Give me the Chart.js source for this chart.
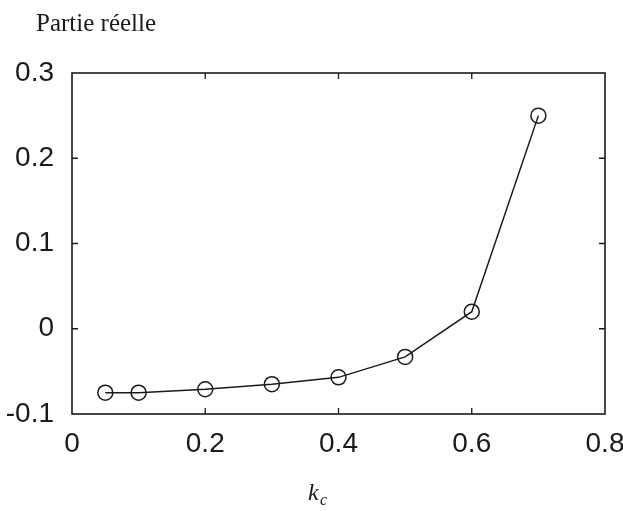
<!DOCTYPE html>
<html>
<head>
<meta charset="utf-8">
<script src="https://cdn.jsdelivr.net/npm/chart.js@4.4.0/dist/chart.umd.min.js"></script>
<style>
  html, body { margin: 0; padding: 0; background: #fff; }
  #wrap { width: 623px; height: 511px; position: relative; }
</style>
</head>
<body>
<div id="wrap"><canvas id="chart" width="623" height="511"></canvas></div>
<script>
const kValues = [0.05, 0.1, 0.2, 0.3, 0.4, 0.5, 0.6, 0.7]
const realPart = [-0.075, -0.075, -0.071, -0.065, -0.057, -0.033, 0.02, 0.25]
const xTicks = [0, 0.2, 0.4, 0.6, 0.8]
const yTicks = [-0.1, 0, 0.1, 0.2, 0.3]

const ink = '#1a1a1a'

// box round the plot with inward ticks on all four sides, like matlab
const boxPlugin = {
    id: 'box',
    afterDraw(chart) {
        const ctx = chart.ctx
        const a = chart.chartArea
        const xs = chart.scales.x
        const ys = chart.scales.y
        ctx.save()
        ctx.strokeStyle = ink
        ctx.lineWidth = 1.6
        ctx.strokeRect(a.left, a.top, a.right - a.left, a.bottom - a.top)
        ctx.lineWidth = 1.3
        ctx.beginPath()
        xTicks.slice(1, -1).forEach(v => {
            const px = xs.getPixelForValue(v)
            ctx.moveTo(px, a.bottom); ctx.lineTo(px, a.bottom - 6)
            ctx.moveTo(px, a.top); ctx.lineTo(px, a.top + 6)
        })
        yTicks.slice(1, -1).forEach(v => {
            const py = ys.getPixelForValue(v)
            ctx.moveTo(a.left, py); ctx.lineTo(a.left + 6, py)
            ctx.moveTo(a.right, py); ctx.lineTo(a.right - 6, py)
        })
        ctx.stroke()

        // title top left and k_c under the axis
        ctx.fillStyle = ink
        ctx.textBaseline = 'alphabetic'
        ctx.font = '25px "Liberation Serif", serif'
        ctx.fillText('Partie réelle', 36, 31)
        ctx.font = 'italic 24px "Liberation Serif", serif'
        ctx.fillText('k', 308, 500)
        ctx.font = 'italic 16px "Liberation Serif", serif'
        ctx.fillText('c', 320, 505)
        ctx.restore()
    }
}

const ctx = document.getElementById('chart').getContext('2d')
new Chart(ctx, {
    type: 'line',
    data: {
        datasets: [{
            data: kValues.map((k, i) => ({x: k, y: realPart[i]})),
            borderColor: ink,
            borderWidth: 1.5,
            pointRadius: 7.5,
            pointBorderWidth: 1.5,
            pointBorderColor: ink,
            pointBackgroundColor: 'rgba(0,0,0,0)',
            tension: 0,
            fill: false
        }]
    },
    options: {
        responsive: false,
        animation: false,
        layout: { padding: { top: 73, right: 0, left: 0, bottom: 0 } },
        plugins: { legend: { display: false }, tooltip: { enabled: false } },
        scales: {
            x: {
                type: 'linear',
                min: 0, max: 0.8,
                afterBuildTicks: s => { s.ticks = xTicks.map(v => ({value: v})) },
                afterFit: s => { s.height = 97; s.paddingRight = 18 },
                grid: { display: false },
                border: { display: false },
                ticks: {
                    color: ink,
                    padding: 5,
                    maxRotation: 0,
                    font: { family: '"Liberation Sans", Arial, sans-serif', size: 28 },
                    callback: v => String(Math.round(v * 10) / 10)
                }
            },
            y: {
                min: -0.1, max: 0.3,
                afterBuildTicks: s => { s.ticks = yTicks.map(v => ({value: v})) },
                afterFit: s => { s.width = 72 },
                grid: { display: false },
                border: { display: false },
                ticks: {
                    color: ink,
                    padding: 10,
                    font: { family: '"Liberation Sans", Arial, sans-serif', size: 28 },
                    callback: v => String(Math.round(v * 10) / 10)
                }
            }
        }
    },
    plugins: [boxPlugin]
})
</script>
</body>
</html>
